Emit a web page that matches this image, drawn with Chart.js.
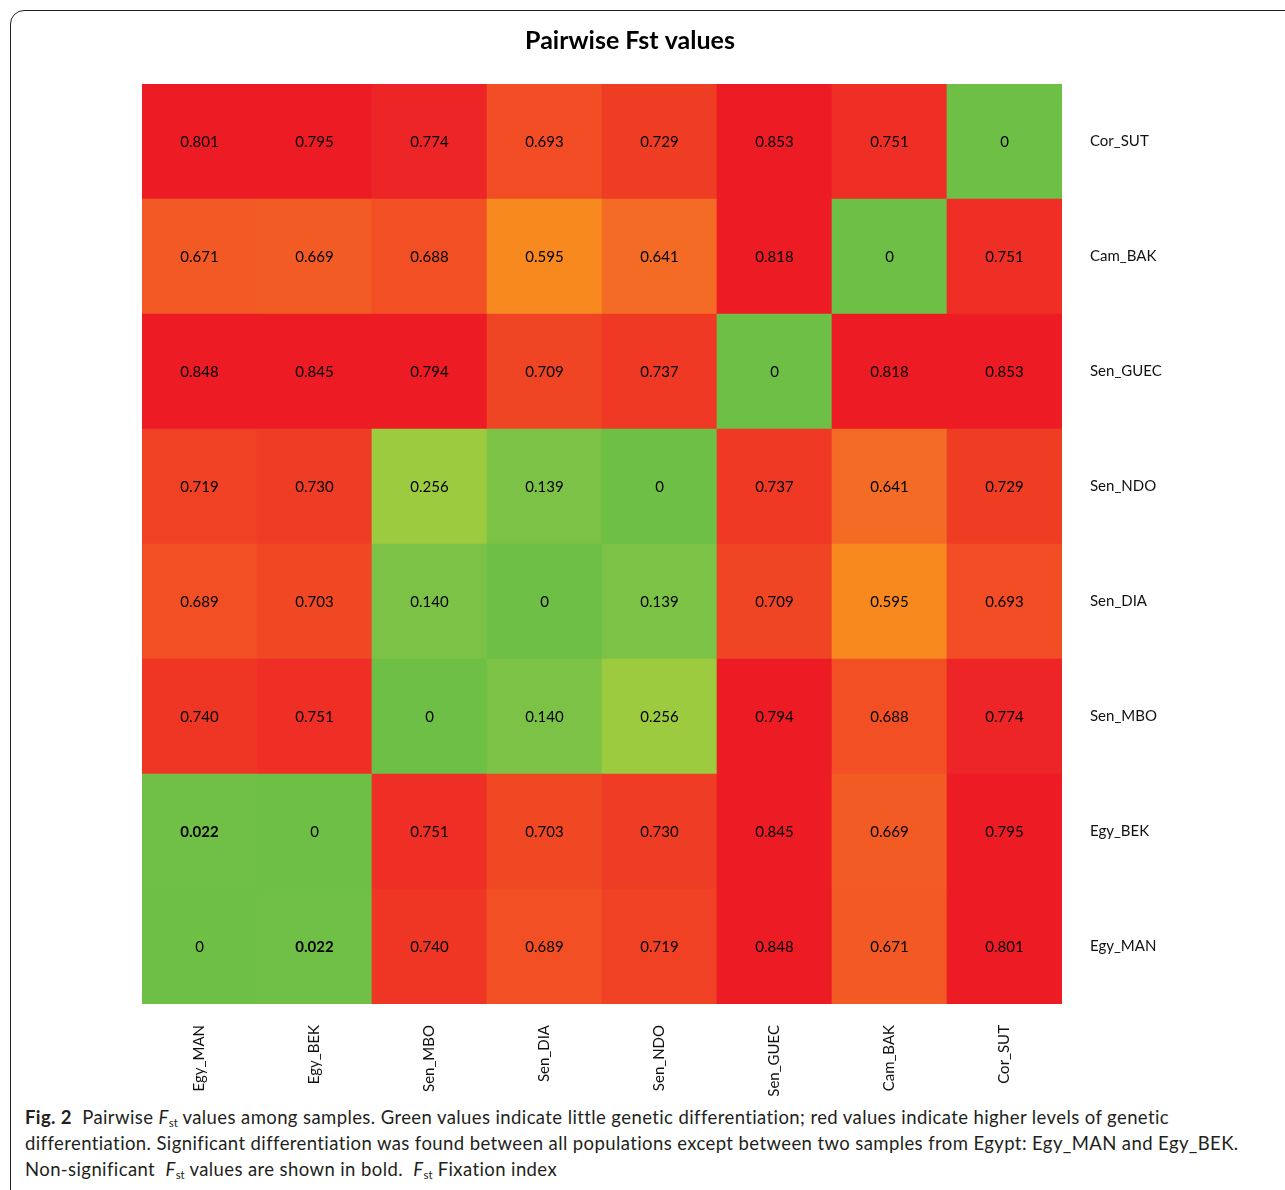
<!DOCTYPE html>
<html>
<head>
<meta charset="utf-8">
<script src="https://cdn.jsdelivr.net/npm/chart.js@4.4.1/dist/chart.umd.min.js"></script>
<style>
  html, body { margin: 0; padding: 0; background: #fff; overflow: hidden; width: 1285px; height: 1190px; }
  #frame { position: absolute; left: 10px; top: 10px; width: 1320px; height: 1220px; border: 1.5px solid #231f20; border-radius: 14px; box-sizing: border-box; }
  #chart { position: absolute; left: 0; top: 0; }
  #caption { position: absolute; left: 25px; top: 1104px; font-family: Lato, "Open Sans", sans-serif; font-size: 18.5px; letter-spacing: 0.4px; line-height: 26px; color: #231f20; white-space: nowrap; }
  #caption sub { font-size: 11.5px; vertical-align: -3px; line-height: 0; letter-spacing: 0; }
</style>
</head>
<body>
<div id="frame"></div>
<canvas id="chart" width="1260" height="1100"></canvas>
<div id="caption"><b>Fig. 2</b>&nbsp; Pairwise <i>F</i><sub>st</sub> values among samples. Green values indicate little genetic differentiation; red values indicate higher levels of genetic<br>differentiation. Significant differentiation was found between all populations except between two samples from Egypt: Egy_MAN and Egy_BEK.<br>Non-significant &nbsp;<i>F</i><sub>st</sub> values are shown in bold. &nbsp;<i>F</i><sub>st</sub> Fixation index</div>
<script>
// Populations (column order left→right, row order bottom→top)
const populations = ["Egy_MAN", "Egy_BEK", "Sen_MBO", "Sen_DIA", "Sen_NDO", "Sen_GUEC", "Cam_BAK", "Cor_SUT"];

// Pairwise Fst values, one array per population (same order as populations)
const fstEgyMAN  = [0,     0.022, 0.740, 0.689, 0.719, 0.848, 0.671, 0.801];
const fstEgyBEK  = [0.022, 0,     0.751, 0.703, 0.730, 0.845, 0.669, 0.795];
const fstSenMBO  = [0.740, 0.751, 0,     0.140, 0.256, 0.794, 0.688, 0.774];
const fstSenDIA  = [0.689, 0.703, 0.140, 0,     0.139, 0.709, 0.595, 0.693];
const fstSenNDO  = [0.719, 0.730, 0.256, 0.139, 0,     0.737, 0.641, 0.729];
const fstSenGUEC = [0.848, 0.845, 0.794, 0.709, 0.737, 0,     0.818, 0.853];
const fstCamBAK  = [0.671, 0.669, 0.688, 0.595, 0.641, 0.818, 0,     0.751];
const fstCorSUT  = [0.801, 0.795, 0.774, 0.693, 0.729, 0.853, 0.751, 0];

// Non-significant pairs (shown in bold)
const nonSignificantPairs = [["Egy_MAN", "Egy_BEK"], ["Egy_BEK", "Egy_MAN"]];

const fstRows = [fstEgyMAN, fstEgyBEK, fstSenMBO, fstSenDIA, fstSenNDO, fstSenGUEC, fstCamBAK, fstCorSUT];

// colour scale (green → orange → red)
const colourStops = [
  [0.000, [0x6E, 0xBF, 0x46]],
  [0.140, [0x7C, 0xC2, 0x46]],
  [0.256, [0x9D, 0xCB, 0x3F]],
  [0.595, [0xF7, 0x89, 0x1F]],
  [0.641, [0xF3, 0x6B, 0x24]],
  [0.670, [0xF3, 0x5A, 0x24]],
  [0.690, [0xF2, 0x4E, 0x24]],
  [0.710, [0xF0, 0x45, 0x24]],
  [0.735, [0xEF, 0x3A, 0x24]],
  [0.750, [0xEF, 0x2F, 0x26]],
  [0.775, [0xEE, 0x25, 0x26]],
  [0.795, [0xED, 0x1C, 0x24]],
  [1.000, [0xED, 0x1C, 0x24]]
];
function fstColour(v) {
  for (let k = 1; k < colourStops.length; k++) {
    const [v1, c1] = colourStops[k];
    const [v0, c0] = colourStops[k - 1];
    if (v <= v1) {
      const t = (v - v0) / (v1 - v0 || 1);
      const c = c0.map((a, i) => Math.round(a + (c1[i] - a) * t));
      return `rgb(${c[0]},${c[1]},${c[2]})`;
    }
  }
  const c = colourStops[colourStops.length - 1][1];
  return `rgb(${c[0]},${c[1]},${c[2]})`;
}
function isBold(r, c) {
  return nonSignificantPairs.some(p => p[0] === populations[r] && p[1] === populations[c]);
}
function fmt(v) { return v === 0 ? "0" : v.toFixed(3); }

const datasets = fstRows.map((row, r) => ({
  label: populations[r],
  data: row.map(() => [r, r + 1]),
  backgroundColor: row.map(v => fstColour(v)),
  borderWidth: 0,
  borderSkipped: false,
  barPercentage: 1.0,
  categoryPercentage: 1.0,
  grouped: false,
  yAxisID: "y"
}));

const cellText = {
  id: "cellText",
  afterDatasetsDraw(chart) {
    const ctx = chart.ctx;
    const xs = chart.scales.x, ys = chart.scales.y;
    ctx.save();
    ctx.textAlign = "center";
    ctx.textBaseline = "middle";
    ctx.fillStyle = "#000";
    fstRows.forEach((row, r) => {
      row.forEach((v, c) => {
        ctx.font = (isBold(r, c) ? "bold " : "") + "15px Lato, 'Open Sans', sans-serif";
        ctx.fillText(fmt(v), xs.getPixelForValue(c), ys.getPixelForValue(r + 0.5) + 1);
      });
    });
    ctx.restore();
  }
};

new Chart(document.getElementById("chart"), {
  type: "bar",
  data: { labels: populations, datasets },
  options: {
    responsive: false,
    devicePixelRatio: 1,
    animation: false,
    layout: { padding: 0 },
    plugins: {
      legend: { display: false },
      tooltip: { enabled: false },
      title: {
        display: true,
        text: "Pairwise Fst values",
        color: "#000",
        font: { family: "Lato, 'Open Sans', sans-serif", size: 25, weight: "bold", lineHeight: 1.2 },
        padding: { top: 26, bottom: 28 }
      }
    },
    scales: {
      x: {
        type: "category",
        position: "bottom",
        grid: { display: false, drawTicks: false },
        border: { display: false },
        ticks: {
          autoSkip: false, minRotation: 90, maxRotation: 90, padding: 21,
          color: "#111", font: { family: "Lato, 'Open Sans', sans-serif", size: 15 }
        },
        afterFit(axis) { axis.height = 96; }
      },
      y: {
        type: "linear",
        position: "right",
        min: 0, max: 8,
        grid: { display: false, drawTicks: false },
        border: { display: false },
        afterBuildTicks(axis) { axis.ticks = populations.map((_, i) => ({ value: i + 0.5 })); },
        ticks: {
          padding: 28, color: "#111",
          font: { family: "Lato, 'Open Sans', sans-serif", size: 15 },
          callback: (v) => populations[Math.floor(v)]
        },
        afterFit(axis) { axis.width = 198; }
      },
      yLeft: {
        type: "linear",
        position: "left",
        grid: { display: false, drawTicks: false },
        border: { display: false },
        ticks: { display: false },
        afterFit(axis) { axis.width = 142; }
      }
    }
  },
  plugins: [cellText]
});
</script>
</body>
</html>
